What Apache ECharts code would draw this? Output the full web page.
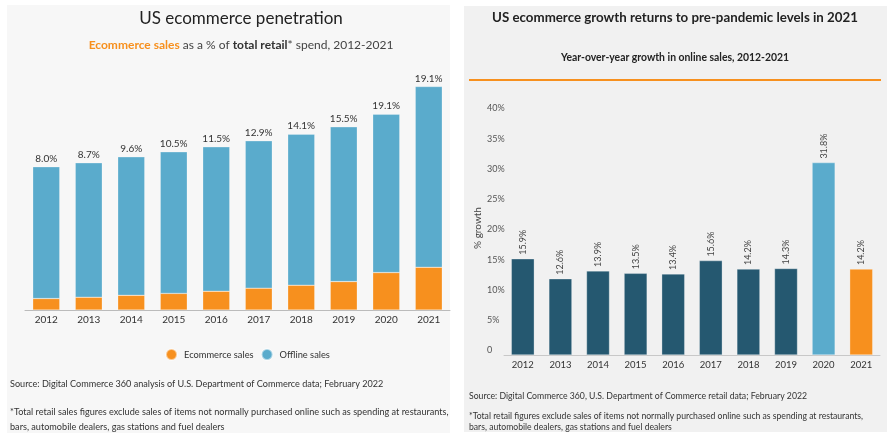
<!DOCTYPE html>
<html>
<head>
<meta charset="utf-8">
<script src="https://cdn.jsdelivr.net/npm/echarts@6/dist/echarts.min.js"></script>
<style>
  html, body { margin: 0; padding: 0; background: #fff; }
  #main { width: 895px; height: 445px; }
</style>
</head>
<body>
<div id="main"></div>
<script>
// left chart: total retail split ($bn)
const years = ['2012', '2013', '2014', '2015', '2016', '2017', '2018', '2019', '2020', '2021'];
const ecommerceSales = [234, 261, 300, 339, 383, 446, 506, 580, 764, 872];
const offlineSales = [2691, 2744, 2827, 2890, 2948, 3008, 3084, 3159, 3234, 3691];
const penetrationLabels = ['8.0%', '8.7%', '9.6%', '10.5%', '11.5%', '12.9%', '14.1%', '15.5%', '19.1%', '19.1%'];

// right chart: yoy growth in online sales (%)
const growth = [15.9, 12.6, 13.9, 13.5, 13.4, 15.6, 14.2, 14.3, 31.8, 14.2];

const ORANGE = '#f7901e';
const BLUE = '#5aabcc';
const NAVY = '#255870';
const FONT = 'Lato, "Noto Sans", sans-serif';

const chart = echarts.init(document.getElementById('main'), null, { renderer: 'canvas' });

function txt(x, y, text, size, opts) {
  return Object.assign({
    type: 'text', x: x, y: y, z: 10,
    style: Object.assign({
      text: text, fontSize: size, fontFamily: FONT, fill: '#333',
      align: 'left', verticalAlign: 'middle'
    }, (opts && opts.style) || {})
  }, (opts && opts.el) || {});
}

const option = {
  animation: false,
  textStyle: { fontFamily: FONT },
  graphic: [
    // panel backgrounds
    { type: 'rect', shape: { x: 7, y: 5, width: 443, height: 428 }, style: { fill: '#f7f7f7' }, z: -10 },
    { type: 'rect', shape: { x: 464, y: 6, width: 423, height: 426 }, style: { fill: '#f1f1f1' }, z: -10 },
    txt(241, 19, 'US ecommerce penetration', 17, { style: { align: 'center', fill: '#222' } }),
    {
      type: 'text', x: 241, y: 45, z: 10,
      style: {
        text: '{o|Ecommerce sales}{n| as a % of }{b|total retail}{n|* spend, 2012-2021}',
        align: 'center', verticalAlign: 'middle',
        rich: {
          o: { fontSize: 12, fontFamily: FONT, fontWeight: 'bold', fill: ORANGE },
          n: { fontSize: 12, fontFamily: FONT, fill: '#444' },
          b: { fontSize: 12, fontFamily: FONT, fontWeight: 'bold', fill: '#333' }
        }
      }
    },
    txt(10, 384, 'Source: Digital Commerce 360 analysis of U.S. Department of Commerce data; February 2022', 9.1),
    txt(10, 412, '*Total retail sales figures exclude sales of items not normally purchased online such as spending at restaurants,', 9.15),
    txt(10, 427, 'bars, automobile dealers, gas stations and fuel dealers', 9.15),

    txt(675, 18, 'US ecommerce growth returns to pre-pandemic levels in 2021', 13.3, { style: { align: 'center', fontWeight: 'bold', fill: '#222' } }),
    txt(675, 58, 'Year-over-year growth in online sales, 2012-2021', 10.4, { style: { align: 'center', fontWeight: 'bold', fill: '#222' } }),
    { type: 'line', shape: { x1: 469, y1: 80, x2: 881, y2: 80 }, style: { stroke: ORANGE, lineWidth: 2 } },
    txt(478, 228, '% growth', 10, { style: { align: 'center', fill: '#444' }, el: { rotation: Math.PI / 2 } }),
    txt(469, 396, 'Source: Digital Commerce 360, U.S. Department of Commerce retail data; February 2022', 8.7),
    txt(469, 416, '*Total retail figures exclude sales of items not normally purchased online such as spending at restaurants,', 8.65),
    txt(469, 427, 'bars, automobile dealers, gas stations and fuel dealers', 8.65)
  ],
  legend: {
    data: ['Ecommerce sales', 'Offline sales'],
    left: 160, top: 343,
    icon: 'circle', itemWidth: 11, itemHeight: 11, itemGap: 7,
    textStyle: { fontSize: 9.3, color: '#333', fontFamily: FONT, padding: [0, 0, 0, 2] }
  },
  grid: [
    { left: 25, right: 445, top: 70, bottom: 135 },
    { left: 504, right: 15, top: 113, bottom: 90 }
  ],
  xAxis: [
    {
      gridIndex: 0, type: 'category', data: years,
      axisTick: { show: false },
      axisLine: { lineStyle: { color: '#bbb' } },
      axisLabel: { color: '#333', fontSize: 10, margin: 5 }
    },
    {
      gridIndex: 1, type: 'category', data: years,
      axisTick: { show: false },
      axisLine: { lineStyle: { color: '#c8c8c8' } },
      axisLabel: { color: '#333', fontSize: 9.5, margin: 5 }
    }
  ],
  yAxis: [
    { gridIndex: 0, type: 'value', min: 0, max: 4900, show: false },
    {
      gridIndex: 1, type: 'value', min: 0, max: 40, interval: 5,
      splitLine: { show: false }, axisLine: { show: false }, axisTick: { show: false },
      axisLabel: {
        color: '#555', fontSize: 9, align: 'left', margin: 17, verticalAlign: 'bottom',
        formatter: v => (v === 0 ? '0' : v + '%')
      }
    }
  ],
  series: [
    {
      name: 'Ecommerce sales', type: 'bar', stack: 'retail',
      xAxisIndex: 0, yAxisIndex: 0, barWidth: 27,
      itemStyle: { color: ORANGE, borderColor: 'rgba(255,255,255,0.5)', borderWidth: 0.5 },
      data: ecommerceSales
    },
    {
      name: 'Offline sales', type: 'bar', stack: 'retail',
      xAxisIndex: 0, yAxisIndex: 0, barWidth: 27,
      itemStyle: { color: BLUE, borderColor: 'rgba(255,255,255,0.5)', borderWidth: 0.5 },
      label: {
        show: true, position: 'top', distance: 3,
        color: '#333', fontSize: 10,
        formatter: p => penetrationLabels[p.dataIndex]
      },
      data: offlineSales
    },
    {
      name: 'Growth', type: 'bar',
      xAxisIndex: 1, yAxisIndex: 1, barWidth: 23,
      itemStyle: {
        borderColor: 'rgba(255,255,255,0.6)', borderWidth: 0.5,
        color: p => (years[p.dataIndex] === '2020' ? BLUE : years[p.dataIndex] === '2021' ? ORANGE : NAVY)
      },
      label: {
        show: true, position: 'top', rotate: 90, align: 'left', verticalAlign: 'middle',
        distance: 4, color: '#444', fontSize: 9,
        formatter: p => p.value + '%'
      },
      data: growth
    }
  ]
};

chart.setOption(option);
</script>
</body>
</html>
